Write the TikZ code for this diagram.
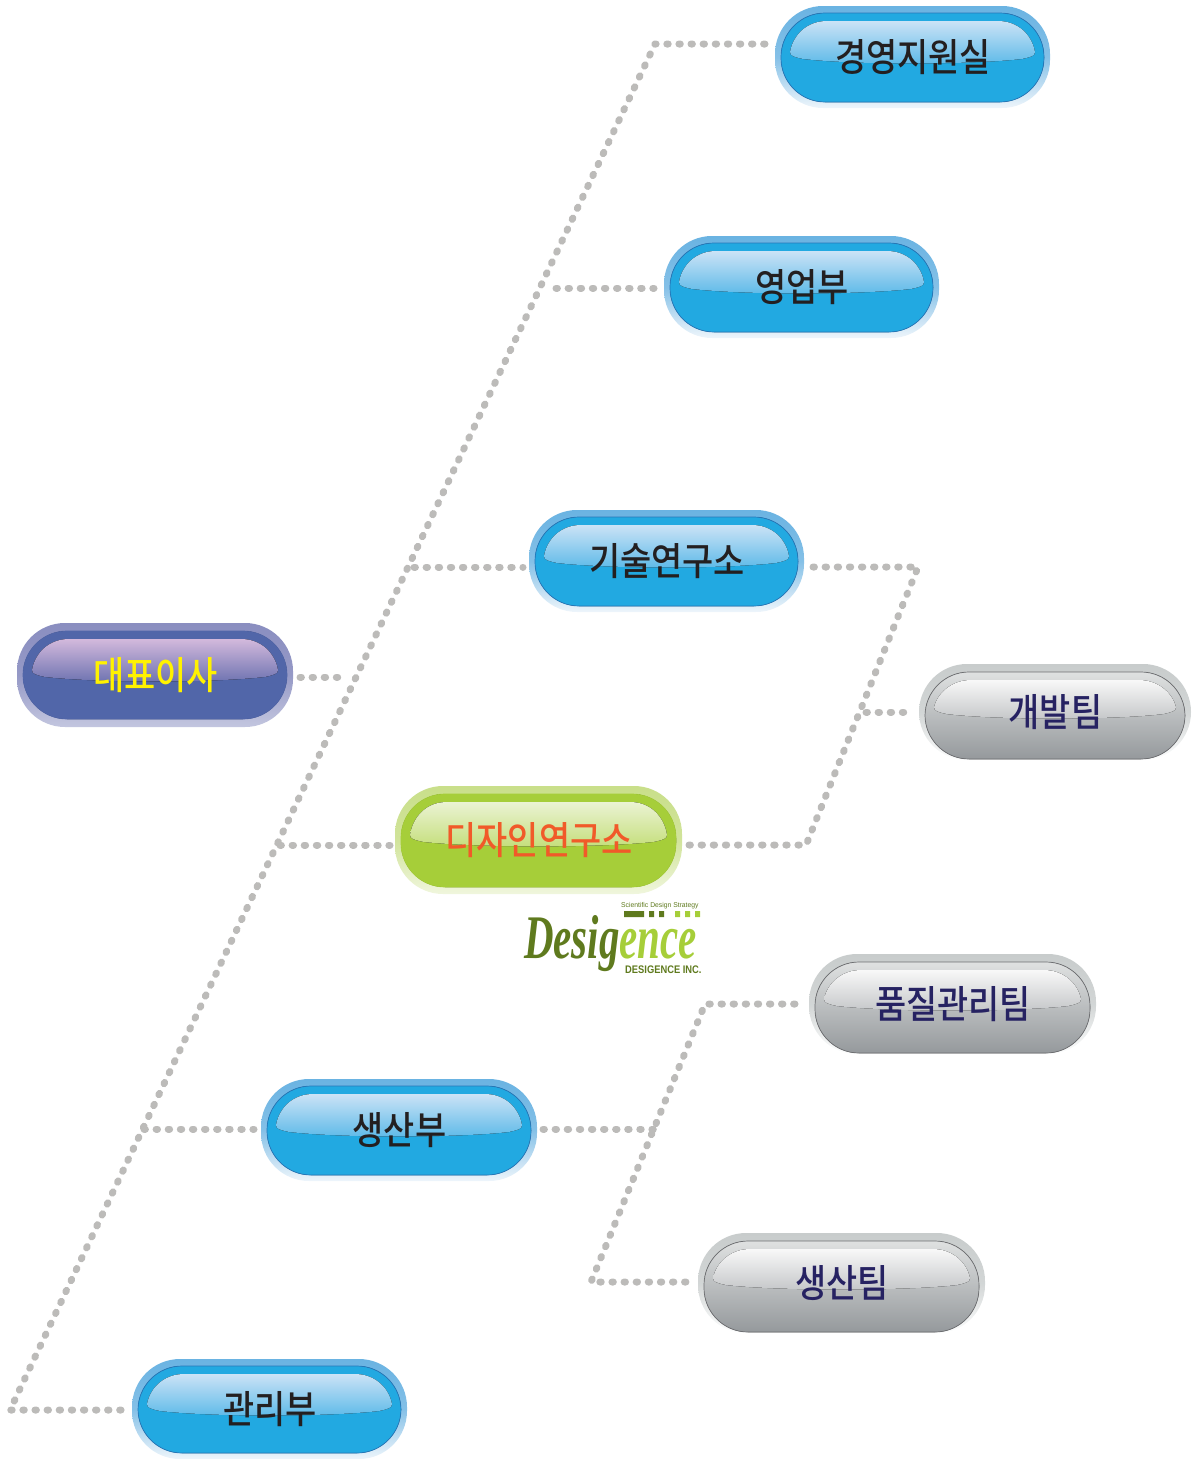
\documentclass[tikz,border=0pt]{standalone}
\usepackage{fontspec}
\setmainfont{Liberation Sans}
\newfontfamily\krfont{Noto Sans CJK KR Medium}[FakeStretch=0.88]
\newfontfamily\logofont{Liberation Serif}
\definecolor{blueHa}{HTML}{6AB3E2}\definecolor{blueHb}{HTML}{EEF5FB}
\definecolor{blueMa}{HTML}{22A9E1}\definecolor{blueMb}{HTML}{22A9E1}
\definecolor{blueGa}{HTML}{CBE3F6}\definecolor{blueGb}{HTML}{5CB9E8}
\definecolor{blueLi}{HTML}{2776B8}\definecolor{blueTx}{HTML}{231F20}
\definecolor{purpHa}{HTML}{8A8EC0}\definecolor{purpHb}{HTML}{C3C6DF}
\definecolor{purpMa}{HTML}{5166A9}\definecolor{purpMb}{HTML}{5166A9}
\definecolor{purpGa}{HTML}{D3B9DC}\definecolor{purpGb}{HTML}{6C72B0}
\definecolor{purpLi}{HTML}{5166A9}\definecolor{purpTx}{HTML}{FFF200}
\definecolor{grenHa}{HTML}{C9DF8A}\definecolor{grenHb}{HTML}{F0F6DD}
\definecolor{grenMa}{HTML}{A6CE39}\definecolor{grenMb}{HTML}{A6CE39}
\definecolor{grenGa}{HTML}{EBF3D3}\definecolor{grenGb}{HTML}{C4DE7A}
\definecolor{grenLi}{HTML}{A6CE39}\definecolor{grenTx}{HTML}{F15A29}
\definecolor{grayHa}{HTML}{C8CCCC}\definecolor{grayHb}{HTML}{FCFDFD}
\definecolor{grayMa}{HTML}{DFE1E1}\definecolor{grayMb}{HTML}{95999C}
\definecolor{grayGa}{HTML}{F8F8F8}\definecolor{grayGb}{HTML}{C4C6C8}
\definecolor{grayLi}{HTML}{6D6E71}\definecolor{grayTx}{HTML}{262262}
\definecolor{dotgray}{HTML}{BCBBB9}
\definecolor{logodark}{HTML}{5F7A1E}
\definecolor{logolite}{HTML}{A6CE39}
\def\blueTop{7}\def\blueBot{6}
\def\purpTop{8}\def\purpBot{8}
\def\grenTop{8}\def\grenBot{7}
\def\grayTop{8}\def\grayBot{1}
\tikzset{
  dotline/.style={draw=dotgray,line width=7pt,line cap=round,line join=round,dash pattern=on 1.4pt off 10.7pt},
  pilltext/.style={font=\krfont\fontsize{38.5}{38.5}\selectfont,inner sep=0pt},
}
% name, theme, x0, y0, x1, y1, text
\newcommand{\glasspill}[7]{%
  \pgfmathsetmacro{\pmx}{(#3+#5)/2}
  \pgfmathsetmacro{\pmy}{(#4+#6)/2}
  \pgfmathsetmacro{\pw}{#5-#3}
  \pgfmathsetmacro{\ph}{#6-#4}
  \pgfmathsetmacro{\gb}{#4+(\ph*0.48)}
  \pgfmathsetmacro{\ga}{#4+\csname #2Top\endcsname+8}
  \node[inner sep=0pt,minimum width=\pw pt,minimum height=\ph pt,
        rounded corners=48pt,top color=#2Ha,bottom color=#2Hb,middle color=#2Ha!80!#2Hb] (#1box) at (\pmx,\pmy) {};
  \fill[rounded corners=44pt,top color=#2Ma,bottom color=#2Mb,draw=#2Li,line width=0.7pt]
     (#3+6,#4+\csname #2Top\endcsname) rectangle (#5-6,#6-\csname #2Bot\endcsname);
  \fill[top color=#2Ga,bottom color=#2Gb]
     (#3+15,\gb-3) .. controls (#3+18,\ga+14) and (#3+32,\ga) .. (#3+52,\ga)
     -- (#5-52,\ga) .. controls (#5-32,\ga) and (#5-18,\ga+14) .. (#5-15,\gb-3)
     .. controls (#5-15,\gb+1) and (#5-19,\gb+2) .. (#5-28,\gb+4)
     .. controls (#5-80,\gb+10) and (#3+80,\gb+10) .. (#3+28,\gb+4)
     .. controls (#3+19,\gb+2) and (#3+15,\gb+1) .. cycle;
  \node[pilltext,text=#2Tx] (#1) at (\pmx+0.5,\pmy) {#7};
}
\begin{document}
\begin{tikzpicture}[x=1pt,y=-1pt]
\useasboundingbox (0,0) rectangle (1193,1459);
% pills
\glasspill{gyeong}{blue}{775}{6}{1050}{108}{경영지원실}
\glasspill{sales}{blue}{664}{236}{939}{338}{영업부}
\glasspill{tech}{blue}{529}{510}{804}{612}{기술연구소}
\glasspill{ceo}{purp}{17}{623}{293}{727}{대표이사}
\glasspill{design}{gren}{395}{786}{682}{894}{디자인연구소}
\glasspill{dev}{gray}{919}{664}{1191}{760}{개발팀}
\glasspill{quality}{gray}{809}{954}{1096}{1054}{품질관리팀}
\glasspill{prodteam}{gray}{698}{1233}{985}{1333}{생산팀}
\glasspill{prod}{blue}{261}{1079}{537}{1181}{생산부}
\glasspill{admin}{blue}{132}{1359}{407}{1459}{관리부}
% connector junctions and ends
\coordinate (a0) at (765,44);
\coordinate (a1) at (655,44);
\coordinate (a2) at (10,1410);
\coordinate (a3) at (128,1410);
\coordinate (c0) at (300,677);
\coordinate (c1) at (348,677);
\coordinate (s0) at (556,288);
\coordinate (s1) at (654,288);
\coordinate (t0) at (414,567);
\coordinate (t1) at (523,567);
\coordinate (d0) at (280,845);
\coordinate (d1) at (390,845);
\coordinate (p0) at (144,1129);
\coordinate (p1) at (254,1129);
\coordinate (r0) at (812,567);
\coordinate (r1) at (918,567);
\coordinate (r2) at (806,845);
\coordinate (r3) at (689,845);
\coordinate (v0) at (866,712);
\coordinate (v1) at (912,712);
\coordinate (m0) at (543,1129);
\coordinate (m1) at (655,1129);
\coordinate (q0) at (795,1004);
\coordinate (q1) at (705,1004);
\coordinate (q2) at (591,1282);
\coordinate (q3) at (688,1282);
\path[dotline] (a0) -- (a1) -- (a2) -- (a3);
\path[dotline] (c0) -- (c1);
\path[dotline] (s0) -- (s1);
\path[dotline] (t0) -- (t1);
\path[dotline] (d0) -- (d1);
\path[dotline] (p0) -- (p1);
\path[dotline] (r3) -- (r2) -- (r1) -- (r0);
\path[dotline] (v0) -- (v1);
\path[dotline] (m0) -- (m1);
\path[dotline] (q0) -- (q1) -- (q2) -- (q3);
% logo
\node[inner sep=0pt,text=logodark,anchor=west,font=\fontsize{7}{7}\selectfont] (slogan) at (621,905.5) {\addfontfeature{FakeStretch=0.97}Scientific Design Strategy};
\fill[logodark] (624,911) rectangle (644,917) (649,911) rectangle (654,917) (659,911) rectangle (664,917);
\fill[logolite] (675,911) rectangle (680,917) (685,911) rectangle (690,917) (695,911) rectangle (700,917);
\node[inner sep=0pt,text depth=0pt,anchor=base west,font=\logofont\itshape\bfseries\fontsize{62}{62}\selectfont,xscale=0.66] (logo) at (524,958)
  {\textcolor{logodark}{Desig}\textcolor{logolite}{ence}};
\node[inner sep=0pt,anchor=west,text=logodark,font=\bfseries\fontsize{11}{11}\selectfont] (inc) at (625,969.5) {\addfontfeature{FakeStretch=0.85}DESIGENCE INC.};
\end{tikzpicture}
\end{document}
